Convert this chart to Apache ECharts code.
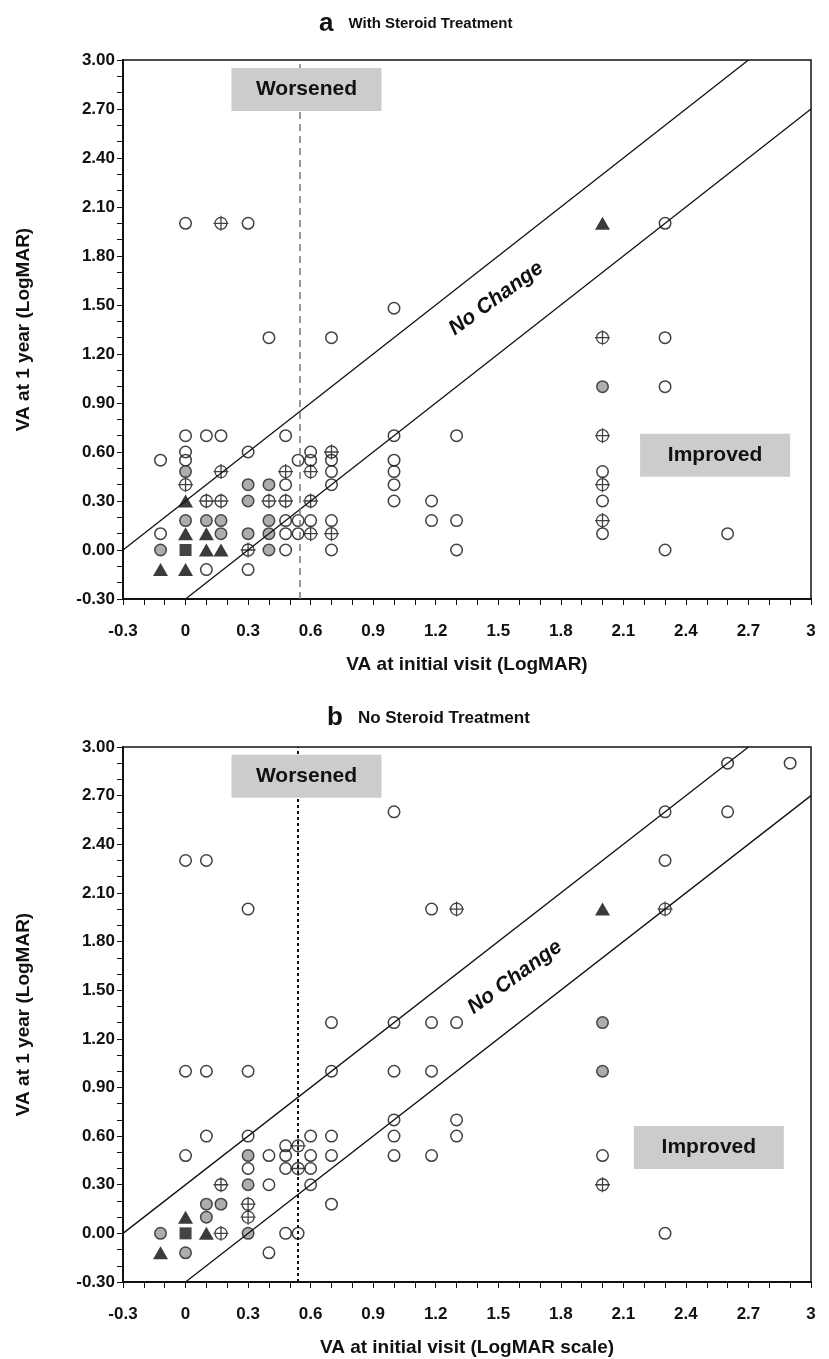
<!DOCTYPE html>
<html lang="en">
<head>
    <meta charset="UTF-8">
    <title>VA at initial visit vs 1 year</title>
    <script src="https://cdn.jsdelivr.net/npm/echarts@6/dist/echarts.min.js"></script>
    <style>
        * { margin: 0; padding: 0; box-sizing: border-box; }
        body { background: #fff; }
        #main { width: 829px; height: 1359px; }
    </style>
</head>
<body>
    <div id="main"></div>
    <script>
        // panel a: with steroid treatment  [initial VA, VA at 1 year]
        const steroidOpen = [
            [-0.12, 0.55], [-0.12, 0.10], [0, 0.70], [0, 0.60], [0, 0.55], [0.1, 0.70], [0.17, 0.70],
            [0.1, -0.12], [0.3, 0.60], [0.3, -0.12], [0.48, 0.70], [0.48, 0.40], [0.48, 0.18],
            [0.48, 0.10], [0.48, 0.00], [0.54, 0.55], [0.54, 0.18], [0.54, 0.10], [0.6, 0.60],
            [0.6, 0.55], [0.6, 0.18], [0.7, 0.55], [0.7, 0.48], [0.7, 0.40], [0.7, 0.18], [0.7, 0.00],
            [1.0, 0.70], [1.0, 0.55], [1.0, 0.48], [1.0, 0.40], [1.0, 0.30], [1.18, 0.30], [1.18, 0.18],
            [1.3, 0.70], [1.3, 0.18], [1.3, 0.00], [2.0, 0.48], [2.0, 0.30], [2.0, 0.10], [2.3, 1.00],
            [2.3, 1.30], [2.3, 2.00], [2.3, 0.00], [2.6, 0.10], [0, 2.00], [0.3, 2.00], [0.4, 1.30],
            [0.7, 1.30], [1.0, 1.48]
        ];
        const steroidCross = [
            [0, 0.40], [0.1, 0.30], [0.17, 0.48], [0.17, 0.30], [0.3, 0.00], [0.4, 0.30], [0.48, 0.48],
            [0.48, 0.30], [0.6, 0.48], [0.6, 0.30], [0.6, 0.10], [0.7, 0.60], [0.7, 0.10], [2.0, 1.30],
            [2.0, 0.70], [2.0, 0.40], [2.0, 0.18], [0.17, 2.00]
        ];
        const steroidGray = [
            [-0.12, 0.00], [0, 0.48], [0, 0.18], [0.1, 0.18], [0.17, 0.18], [0.17, 0.10], [0.3, 0.40],
            [0.3, 0.30], [0.3, 0.10], [0.4, 0.40], [0.4, 0.18], [0.4, 0.10], [0.4, 0.00], [2.0, 1.00]
        ];
        const steroidTriangle = [
            [-0.12, -0.12], [0, 0.30], [0, 0.10], [0, -0.12], [0.1, 0.10], [0.1, 0.00], [0.17, 0.00], [2.0, 2.00]
        ];
        const steroidSquare = [[0, 0.00]];

        // panel b: no steroid treatment
        const noSteroidOpen = [
            [0, 2.30], [0.1, 2.30], [0.3, 2.00], [1.0, 2.60], [1.18, 2.00], [2.3, 2.60], [2.3, 2.30],
            [2.6, 2.90], [2.6, 2.60], [2.9, 2.90], [0, 1.00], [0.1, 1.00], [0.3, 1.00], [0.7, 1.00],
            [0.7, 1.30], [1.0, 1.30], [1.18, 1.30], [1.3, 1.30], [1.0, 1.00], [1.18, 1.00], [1.0, 0.70],
            [1.3, 0.70], [1.0, 0.60], [1.3, 0.60], [1.0, 0.48], [1.18, 0.48], [0.1, 0.60], [0.3, 0.60],
            [0.6, 0.60], [0.7, 0.60], [0, 0.48], [0.4, 0.48], [0.48, 0.54], [0.48, 0.48], [0.6, 0.48],
            [0.7, 0.48], [0.3, 0.40], [0.48, 0.40], [0.6, 0.40], [0.4, 0.30], [0.6, 0.30], [0.7, 0.18],
            [0.48, 0.00], [0.54, 0.00], [0.4, -0.12], [2.0, 0.48], [2.3, 0.00]
        ];
        const noSteroidCross = [
            [1.3, 2.00], [2.3, 2.00], [0.54, 0.54], [0.54, 0.40], [0.17, 0.30], [0.3, 0.18], [0.3, 0.10],
            [0.17, 0.00], [2.0, 0.30]
        ];
        const noSteroidGray = [
            [0.3, 0.48], [0.3, 0.30], [0.1, 0.18], [0.17, 0.18], [0.1, 0.10], [-0.12, 0.00], [0.3, 0.00],
            [0, -0.12], [2.0, 1.30], [2.0, 1.00]
        ];
        const noSteroidTriangle = [[2.0, 2.00], [0, 0.10], [0.1, 0.00], [-0.12, -0.12]];
        const noSteroidSquare = [[0, 0.00]];

        // +/- 0.3 logMAR "no change" band and the vertical cut-off
        const bandWidth = 0.3;
        const cutoffA = 0.55;
        const cutoffB = 0.54;

        const panelTitles = ['With Steroid Treatment', 'No Steroid Treatment'];
        const panelLetters = ['a', 'b'];
        const xTitles = ['VA at initial visit (LogMAR)', 'VA at initial visit (LogMAR scale)'];
        const yTitle = 'VA at 1 year (LogMAR)';

        const axMin = -0.3, axMax = 3;

        var chart = echarts.init(document.getElementById('main'));

        var fontMain = "'Liberation Sans Narrow', 'Arial Narrow', 'Liberation Sans', Arial, sans-serif";
        var fontWide = "'Liberation Sans', Arial, sans-serif";

        var crossPath = 'path://M-7.5,0L7.5,0M0,-7.5L0,7.5M6,0A6,6,0,1,1,-6,0A6,6,0,1,1,6,0Z';

        var markerStyles = {
            open: { symbol: 'circle', symbolSize: 11.5, itemStyle: { color: 'rgba(0,0,0,0)', borderColor: '#111', borderWidth: 1.5 } },
            cross: { symbol: crossPath, symbolSize: 15, itemStyle: { color: 'rgba(0,0,0,0)', borderColor: '#111', borderWidth: 1.3 } },
            gray: { symbol: 'circle', symbolSize: 11.5, itemStyle: { color: '#999', borderColor: '#222', borderWidth: 1.5 } },
            triangle: { symbol: 'triangle', symbolSize: [15, 13], itemStyle: { color: '#0a0a0a' } },
            square: { symbol: 'rect', symbolSize: 12, itemStyle: { color: '#151515' } }
        };

        function scatter(data, kind, idx) {
            var s = markerStyles[kind];
            return {
                type: 'scatter',
                xAxisIndex: idx,
                yAxisIndex: idx,
                data: data,
                symbol: s.symbol,
                symbolSize: s.symbolSize,
                itemStyle: s.itemStyle,
                silent: true,
                z: 3
            };
        }

        function bandLine(offset, idx) {
            // y = x + offset, clipped to the axis box
            var x0 = Math.max(axMin, axMin - offset);
            var x1 = Math.min(axMax, axMax - offset);
            return {
                type: 'line',
                xAxisIndex: idx,
                yAxisIndex: idx,
                data: [[x0, x0 + offset], [x1, x1 + offset]],
                symbol: 'none',
                lineStyle: { color: '#111', width: 1.3 },
                silent: true,
                z: 4
            };
        }

        function boxLabel(text, coord) {
            return {
                coord: coord,
                symbol: 'rect',
                symbolSize: [150, 43],
                itemStyle: { color: '#cccccc' },
                label: {
                    show: true,
                    position: 'inside',
                    formatter: text,
                    color: '#111',
                    fontSize: 21,
                    fontWeight: 'bold',
                    fontFamily: fontWide
                }
            };
        }

        function noChangeLabel(coord) {
            return {
                coord: coord,
                symbol: 'rect',
                symbolSize: 1,
                itemStyle: { color: 'rgba(0,0,0,0)' },
                label: {
                    show: true,
                    position: 'inside',
                    formatter: 'No Change',
                    rotate: 36,
                    color: '#111',
                    fontSize: 21,
                    fontWeight: 'bold',
                    fontStyle: 'italic',
                    fontFamily: fontWide
                }
            };
        }

        function cutoffSeries(x, idx, style) {
            return {
                type: 'scatter',
                xAxisIndex: idx,
                yAxisIndex: idx,
                data: [],
                silent: true,
                z: 2,
                markLine: {
                    silent: true,
                    symbol: 'none',
                    label: { show: false },
                    lineStyle: style,
                    data: [{ xAxis: x }]
                }
            };
        }

        function annotations(idx, worsened, improved, noChange) {
            return {
                type: 'scatter',
                xAxisIndex: idx,
                yAxisIndex: idx,
                data: [],
                silent: true,
                z: 6,
                markPoint: {
                    silent: true,
                    animation: false,
                    data: [boxLabel('Worsened', worsened), boxLabel('Improved', improved), noChangeLabel(noChange)]
                }
            };
        }

        var grids = [
            { left: 123, right: 18, top: 60, height: 539 },
            { left: 123, right: 18, top: 747, height: 535 }
        ];

        function xAxis(idx) {
            return {
                type: 'value',
                gridIndex: idx,
                min: axMin,
                max: axMax,
                interval: 0.3,
                name: xTitles[idx],
                nameLocation: 'middle',
                nameGap: 56,
                nameTextStyle: { fontSize: 19, fontWeight: 'bold', color: '#111', fontFamily: fontMain },
                axisLine: { onZero: false, lineStyle: { color: '#111', width: 2 } },
                axisTick: { show: true, length: 6, lineStyle: { color: '#111', width: 1 } },
                minorTick: { show: true, splitNumber: 3, length: 6, lineStyle: { color: '#111', width: 1 } },
                splitLine: { show: false },
                axisLabel: {
                    margin: 24,
                    fontSize: 17,
                    fontWeight: 'bold',
                    color: '#111',
                    fontFamily: fontMain,
                    formatter: function (v) { return String(parseFloat(v.toFixed(1))); }
                }
            };
        }

        function yAxis(idx) {
            return {
                type: 'value',
                gridIndex: idx,
                min: axMin,
                max: axMax,
                interval: 0.3,
                name: yTitle,
                nameLocation: 'middle',
                nameRotate: 90,
                nameGap: 90,
                nameTextStyle: { fontSize: 19, fontWeight: 'bold', color: '#111', fontFamily: fontMain },
                axisLine: { show: true, onZero: false, lineStyle: { color: '#111', width: 2 } },
                axisTick: { show: true, length: 6, lineStyle: { color: '#111', width: 1 } },
                minorTick: { show: true, splitNumber: 3, length: 6, lineStyle: { color: '#111', width: 1 } },
                splitLine: { show: false },
                axisLabel: {
                    margin: 8,
                    fontSize: 17,
                    fontWeight: 'bold',
                    color: '#111',
                    fontFamily: fontMain,
                    formatter: function (v) { return v.toFixed(2); }
                }
            };
        }

        var option = {
            backgroundColor: '#fff',
            animation: false,
            title: [0, 1].map(function (i) {
                return {
                    text: '{l|' + panelLetters[i] + '}   {t|' + panelTitles[i] + '}',
                    left: [314, 322][i],
                    top: [6, 700][i],
                    textStyle: {
                        rich: {
                            l: { fontSize: 26, fontWeight: 'bold', color: '#111', fontFamily: fontWide },
                            t: { fontSize: [15, 17][i], fontWeight: 'bold', color: '#111', fontFamily: fontWide }
                        }
                    }
                };
            }),
            grid: grids.map(function (g) {
                return Object.assign({ show: true, borderColor: '#111', borderWidth: 1.5, backgroundColor: 'transparent' }, g);
            }),
            xAxis: [xAxis(0), xAxis(1)],
            yAxis: [yAxis(0), yAxis(1)],
            series: [
                cutoffSeries(cutoffA, 0, { color: '#777', type: [7, 5], width: 1.5 }),
                cutoffSeries(cutoffB, 1, { color: '#111', type: [3, 3], width: 2 }),
                bandLine(bandWidth, 0), bandLine(-bandWidth, 0),
                bandLine(bandWidth, 1), bandLine(-bandWidth, 1),
                scatter(steroidOpen, 'open', 0),
                scatter(steroidCross, 'cross', 0),
                scatter(steroidGray, 'gray', 0),
                scatter(steroidTriangle, 'triangle', 0),
                scatter(steroidSquare, 'square', 0),
                scatter(noSteroidOpen, 'open', 1),
                scatter(noSteroidCross, 'cross', 1),
                scatter(noSteroidGray, 'gray', 1),
                scatter(noSteroidTriangle, 'triangle', 1),
                scatter(noSteroidSquare, 'square', 1),
                annotations(0, [0.58, 2.82], [2.54, 0.58], [1.49, 1.54]),
                annotations(1, [0.58, 2.82], [2.51, 0.53], [1.58, 1.58])
            ]
        };

        chart.setOption(option);
    </script>
</body>
</html>
